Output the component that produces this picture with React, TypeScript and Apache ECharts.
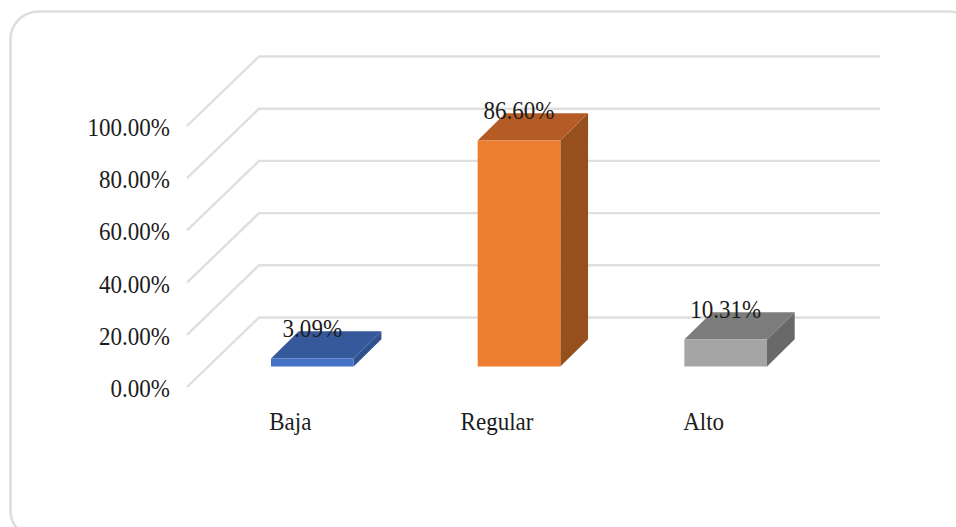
import React, { useEffect, useRef } from "react";
import * as echarts from "echarts";

const categories = ["Baja", "Regular", "Alto"];
const percentages = [3.09, 86.6, 10.31];
const yTicks = [0, 20, 40, 60, 80, 100];

const frontColors = ["#4472C4", "#ED7D31", "#A5A5A5"];
const topColors = ["#35599A", "#B55B25", "#7C7C7C"];
const sideColors = ["#2F5190", "#96501D", "#696969"];

const FONT = '"Liberation Serif", "Times New Roman", serif';
const FONT_SIZE = 26;
const TEXT_SQUEEZE = 0.885;
const TEXT_COLOR = "#1c1c1c";
const WALL_COLOR = "#dfdfdf";

// Oblique projection of the chart's box: the back wall, and the bars' position in it.
const WALL_DX = 72;
const WALL_DY = -69.5;
const BAR_DX = 22;
const BAR_DY = -20.5;
const BAR_DEPTH_X = 27.7;
const BAR_DEPTH_Y = -27.3;

const pct = (v: number) => v.toFixed(2) + "%";

// Condensed serif label, shared by the axes and the bars.
const label = (text: string, x: number, y: number, align: string) => ({
  type: "text",
  x,
  y,
  scaleX: TEXT_SQUEEZE,
  style: {
    text,
    fontFamily: FONT,
    fontSize: FONT_SIZE,
    fill: TEXT_COLOR,
    align,
    verticalAlign: "middle",
  },
});

export default function App() {
  const ref = useRef<HTMLDivElement>(null);

  useEffect(() => {
    const chart = echarts.init(ref.current!, null, { renderer: "svg" });

    const renderWall = (params: any, api: any) => {
      const tick = api.value(1);
      const y = api.coord([0, tick])[1];
      const { x, width } = params.coordSys;
      return {
        type: "group",
        children: [
          {
            type: "polyline",
            shape: {
              points: [
                [x, y],
                [x + WALL_DX, y + WALL_DY],
                [x + width + WALL_DX + 1, y + WALL_DY],
              ],
            },
            style: { stroke: WALL_COLOR, lineWidth: 2.4, fill: "none" },
          },
          label(pct(tick), x - 17, y + 1, "right"),
        ],
      };
    };

    const renderBar = (params: any, api: any) => {
      const i = api.value(0);
      const v = api.value(1);
      const base = api.coord([i, 0]);
      const top = api.coord([i, v]);
      const w = api.size([1, 0])[0] * 0.4;
      const x0 = base[0] + BAR_DX - w / 2;
      const x1 = x0 + w;
      const y0 = base[1] + BAR_DY;
      const y1 = top[1] + BAR_DY;
      const dx = BAR_DEPTH_X;
      const dy = BAR_DEPTH_Y;
      return {
        type: "group",
        children: [
          {
            type: "polygon",
            shape: { points: [[x1, y0], [x1 + dx, y0 + dy], [x1 + dx, y1 + dy], [x1, y1]] },
            style: { fill: sideColors[i] },
          },
          {
            type: "polygon",
            shape: { points: [[x0, y1], [x1, y1], [x1 + dx, y1 + dy], [x0 + dx, y1 + dy]] },
            style: { fill: topColors[i] },
          },
          {
            type: "rect",
            shape: { x: x0, y: y1, width: w, height: y0 - y1 },
            style: { fill: frontColors[i] },
          },
          label(pct(v), x0 + w / 2, y1 + dy - 3, "center"),
          label(categories[i], base[0], base[1] + 34, "center"),
        ],
      };
    };

    chart.setOption({
      animation: false,
      backgroundColor: "#ffffff",
      graphic: [
        {
          type: "rect",
          z: -1,
          shape: { x: 10.5, y: 11.5, width: 966, height: 527, r: 28 },
          style: { fill: "#ffffff", stroke: "#dedede", lineWidth: 2.6 },
        },
      ],
      grid: { left: 187, top: 126, width: 620, height: 261 },
      xAxis: {
        type: "category",
        data: categories,
        axisLine: { show: false },
        axisTick: { show: false },
        axisLabel: { show: false },
      },
      yAxis: {
        type: "value",
        min: 0,
        max: 100,
        interval: 20,
        splitLine: { show: false },
        axisLine: { show: false },
        axisTick: { show: false },
        axisLabel: { show: false },
      },
      series: [
        {
          type: "custom",
          z: 1,
          renderItem: renderWall,
          encode: { x: 0, y: 1 },
          data: yTicks.map((t) => [0, t]),
        },
        {
          type: "custom",
          z: 2,
          renderItem: renderBar,
          encode: { x: 0, y: 1 },
          data: categories.map((_, i) => [i, percentages[i]]),
        },
      ],
    });

    return () => chart.dispose();
  }, []);

  return <div ref={ref} style={{ position: "fixed", left: 0, top: 0, width: 956, height: 527 }} />;
}
